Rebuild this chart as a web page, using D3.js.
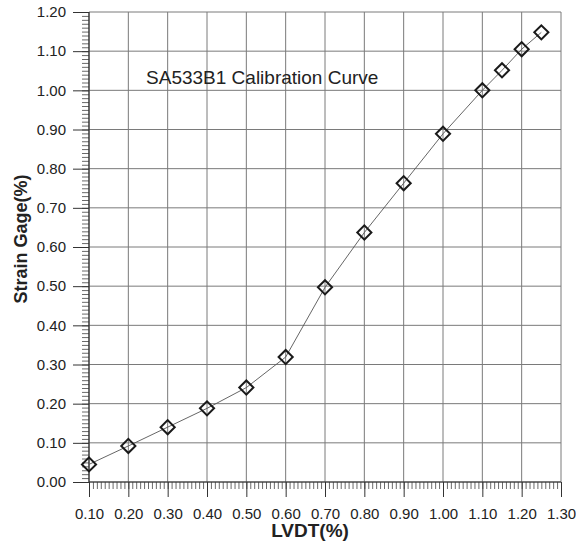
<!DOCTYPE html>
<html>
<head>
<meta charset="utf-8">
<script src="https://cdn.jsdelivr.net/npm/d3@7"></script>
<style>
body { margin:0; background:#fff; }
svg text { font-family: "Liberation Sans", Arial, sans-serif; fill:#222; }
</style>
</head>
<body>
<div class="chart"></div>
<script>
// calibration data
var lvdt = [0.10, 0.20, 0.30, 0.40, 0.50, 0.60, 0.70, 0.80, 0.90, 1.00, 1.10, 1.15, 1.20, 1.25];
var strain = [0.045, 0.092, 0.140, 0.188, 0.241, 0.319, 0.497, 0.637, 0.763, 0.889, 1.000, 1.051, 1.105, 1.148];
var xTicks = [0.10, 0.20, 0.30, 0.40, 0.50, 0.60, 0.70, 0.80, 0.90, 1.00, 1.10, 1.20, 1.30];
var yTicks = [0.00, 0.10, 0.20, 0.30, 0.40, 0.50, 0.60, 0.70, 0.80, 0.90, 1.00, 1.10, 1.20];
var titleText = "SA533B1 Calibration Curve";
var xLabel = "LVDT(%)";
var yLabel = "Strain Gage(%)";

var svgWidth = 576;
var svgHeight = 545;
var chartMargin = { top: 12, right: 15, bottom: 63, left: 89 };
var width = svgWidth - chartMargin.left - chartMargin.right;
var height = svgHeight - chartMargin.top - chartMargin.bottom;

var svg = d3.select(".chart")
  .append("svg")
  .attr("width", svgWidth)
  .attr("height", svgHeight);

var chart = svg.append("g")
  .attr("transform", "translate(" + chartMargin.left + "," + chartMargin.top + ")");

var x = d3.scaleLinear().domain([0.1, 1.3]).range([0, width]);
var y = d3.scaleLinear().domain([0, 1.2]).range([height, 0]);

var minorX = d3.range(10, 131).map(function(d) { return d / 100; });
var minorY = d3.range(0, 121).map(function(d) { return d / 100; });

// grid
chart.append("g").selectAll("line.vg")
  .data(xTicks).enter().append("line")
  .attr("x1", function(d) { return x(d); }).attr("x2", function(d) { return x(d); })
  .attr("y1", 0).attr("y2", height)
  .attr("stroke", "#7a7a7a").attr("stroke-width", 1);
chart.append("g").selectAll("line.hg")
  .data(yTicks).enter().append("line")
  .attr("y1", function(d) { return y(d); }).attr("y2", function(d) { return y(d); })
  .attr("x1", 0).attr("x2", width)
  .attr("stroke", "#7a7a7a").attr("stroke-width", 1);

// bottom axis: minor + major ticks
var bottom = chart.append("g").attr("transform", "translate(0," + height + ")");
bottom.call(d3.axisBottom(x).tickValues(minorX).tickSize(7).tickFormat(""));
bottom.call(function(g) {
  g.select(".domain").remove();
  g.selectAll("line").attr("stroke", "#444").attr("stroke-width", 0.8);
});
var bottomMajor = chart.append("g").attr("transform", "translate(0," + height + ")")
  .call(d3.axisBottom(x).tickValues(xTicks).tickSize(15).tickPadding(11).tickFormat(d3.format(".2f")));
bottomMajor.select(".domain").remove();
bottomMajor.selectAll("line").attr("stroke", "#333").attr("stroke-width", 1);
bottomMajor.selectAll("text").style("font-size", "15px").attr("fill", "#222");

// left axis
var left = chart.append("g");
left.call(d3.axisLeft(y).tickValues(minorY).tickSize(7).tickFormat(""));
left.select(".domain").remove();
left.selectAll("line").attr("stroke", "#444").attr("stroke-width", 0.8);
var leftMajor = chart.append("g")
  .call(d3.axisLeft(y).tickValues(yTicks).tickSize(16).tickPadding(7).tickFormat(d3.format(".2f")));
leftMajor.select(".domain").remove();
leftMajor.selectAll("line").attr("stroke", "#333").attr("stroke-width", 1);
leftMajor.selectAll("text").style("font-size", "15px").attr("fill", "#222");

// axis lines
chart.append("line").attr("x1", 0).attr("x2", width).attr("y1", height).attr("y2", height)
  .attr("stroke", "#333").attr("stroke-width", 1.2);
chart.append("line").attr("x1", 0).attr("x2", 0).attr("y1", 0).attr("y2", height)
  .attr("stroke", "#333").attr("stroke-width", 1.2);

// curve
var pts = lvdt.map(function(d, i) { return [d, strain[i]]; });
var line = d3.line()
  .x(function(d) { return x(d[0]); })
  .y(function(d) { return y(d[1]); });
chart.append("path")
  .datum(pts)
  .attr("d", line)
  .attr("fill", "none")
  .attr("stroke", "#555")
  .attr("stroke-width", 0.9);

chart.append("g").selectAll("path.pt")
  .data(pts).enter().append("path")
  .attr("d", d3.symbol().type(d3.symbolSquare).size(100))
  .attr("transform", function(d) { return "translate(" + x(d[0]) + "," + y(d[1]) + ") rotate(45)"; })
  .attr("fill", "none")
  .attr("stroke", "#1a1a1a")
  .attr("stroke-width", 2);

// title
chart.append("text")
  .attr("x", x(0.245))
  .attr("y", 72)
  .style("font-size", "19px")
  .text(titleText);

// axis labels
svg.append("text")
  .attr("x", 310)
  .attr("y", 537)
  .attr("text-anchor", "middle")
  .style("font-size", "19px")
  .style("font-weight", "bold")
  .text(xLabel);

svg.append("text")
  .attr("transform", "translate(27,239) rotate(-90)")
  .attr("text-anchor", "middle")
  .style("font-size", "18px")
  .style("font-weight", "bold")
  .text(yLabel);
</script>
</body>
</html>
